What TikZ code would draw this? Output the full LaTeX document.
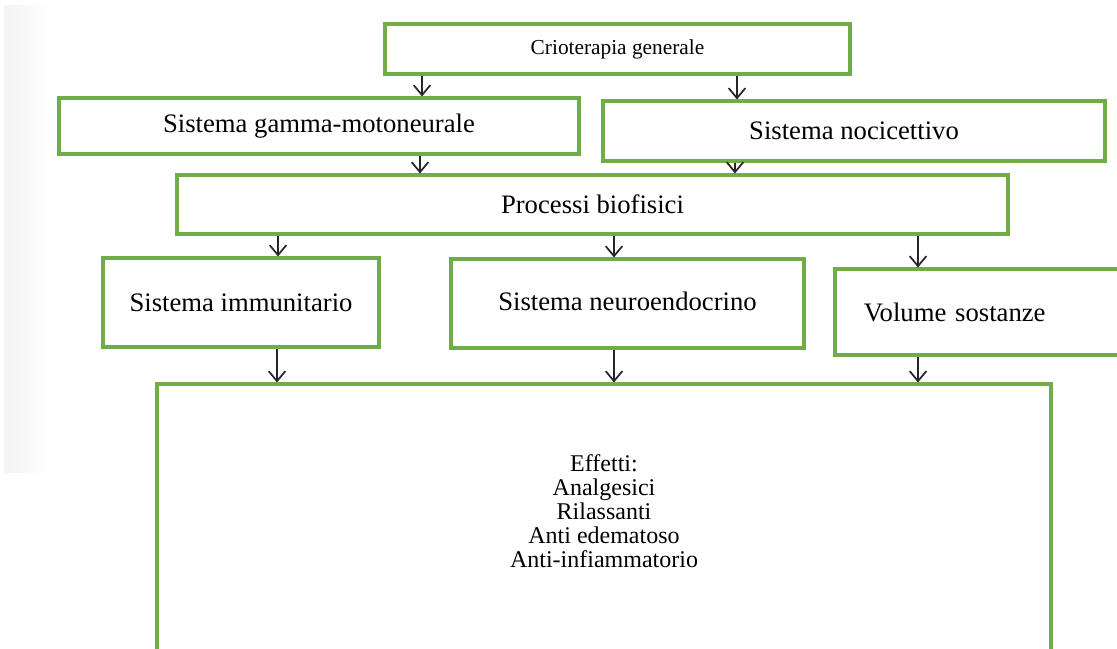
\documentclass[tikz,border=0pt]{standalone}
\usepackage{fontspec}
\setmainfont{Liberation Serif}
\usetikzlibrary{positioning,arrows.meta}
\definecolor{boxgreen}{RGB}{112,173,71}
\tikzset{
  box/.style={draw=boxgreen,line width=2.3pt,fill=white,inner sep=0pt,align=center,font=\fontsize{20}{24}\selectfont},
  txt/.style={align=center,inner sep=0pt,font=\fontsize{18}{18}\selectfont},
  arr/.style={-{Straight Barb[length=7.5pt,width=12.5pt,line width=1.3pt]},line width=1.1pt,black!85},
}

\begin{document}
\begin{tikzpicture}[x=0.75pt,y=-0.75pt]
  \clip (0,0) rectangle (1117,649);
  \shade[left color=gray!9,right color=white] (4,6) rectangle (52,472);
  % top row
  \node[box,minimum width=348.75pt,minimum height=37.5pt,font=\fontsize{16}{19}\selectfont] (crio) at (617.5,49) {Crioterapia generale};
  \node[box,minimum width=390pt,minimum height=42pt] (gamma) at (319,126) {Sistema gamma-motoneurale};
  \node[box,minimum width=376.5pt,minimum height=45pt] (noci) at (854,131) {\raisebox{-4pt}{Sistema nocicettivo}};
  \node[box,minimum width=623.25pt,minimum height=44.25pt] (proc) at (592.5,204.5) {Processi biofisici};
  % middle row
  \node[box,minimum width=207pt,minimum height=66.75pt] (immu) at (241,302.5) {Sistema immunitario};
  \node[box,minimum width=264.75pt,minimum height=66.75pt] (neuro) at (627.5,303.5) {\raisebox{3pt}{Sistema neuroendocrino}};
  \node[box,minimum width=221.25pt,minimum height=64.5pt,text width=178pt,align=left,inner xsep=21pt] (vol) at (982.5,312) {Volume sostanze};
  % effects
  \node[box,minimum width=670.5pt,minimum height=237pt] (eff) at (604,542) {};
  \node[txt] (efftxt) at (604,511) {Effetti:\\Analgesici\\Rilassanti\\Anti edematoso\\Anti-infiammatorio};
  % arrows
  \draw[arr] (crio.south -| 422,0) -- (gamma.north -| 422,0);
  \draw[arr] (crio.south -| 737,0) -- (noci.north -| 737,0);
  \draw[arr] (gamma.south -| 420,0) -- (proc.north -| 420,0);
  \draw[arr] (noci.south -| 735,0) -- (proc.north -| 735,0);
  \draw[arr] (proc.south -| 278,0) -- (immu.north -| 278,0);
  \draw[arr] (proc.south -| 614,0) -- (neuro.north -| 614,0);
  \draw[arr] (proc.south -| 918,0) -- (vol.north -| 918,0);
  \draw[arr] (immu.south -| 277,0) -- (eff.north -| 277,0);
  \draw[arr] (neuro.south -| 614,0) -- (eff.north -| 614,0);
  \draw[arr] (vol.south -| 918,0) -- (eff.north -| 918,0);
\end{tikzpicture}
\end{document}
